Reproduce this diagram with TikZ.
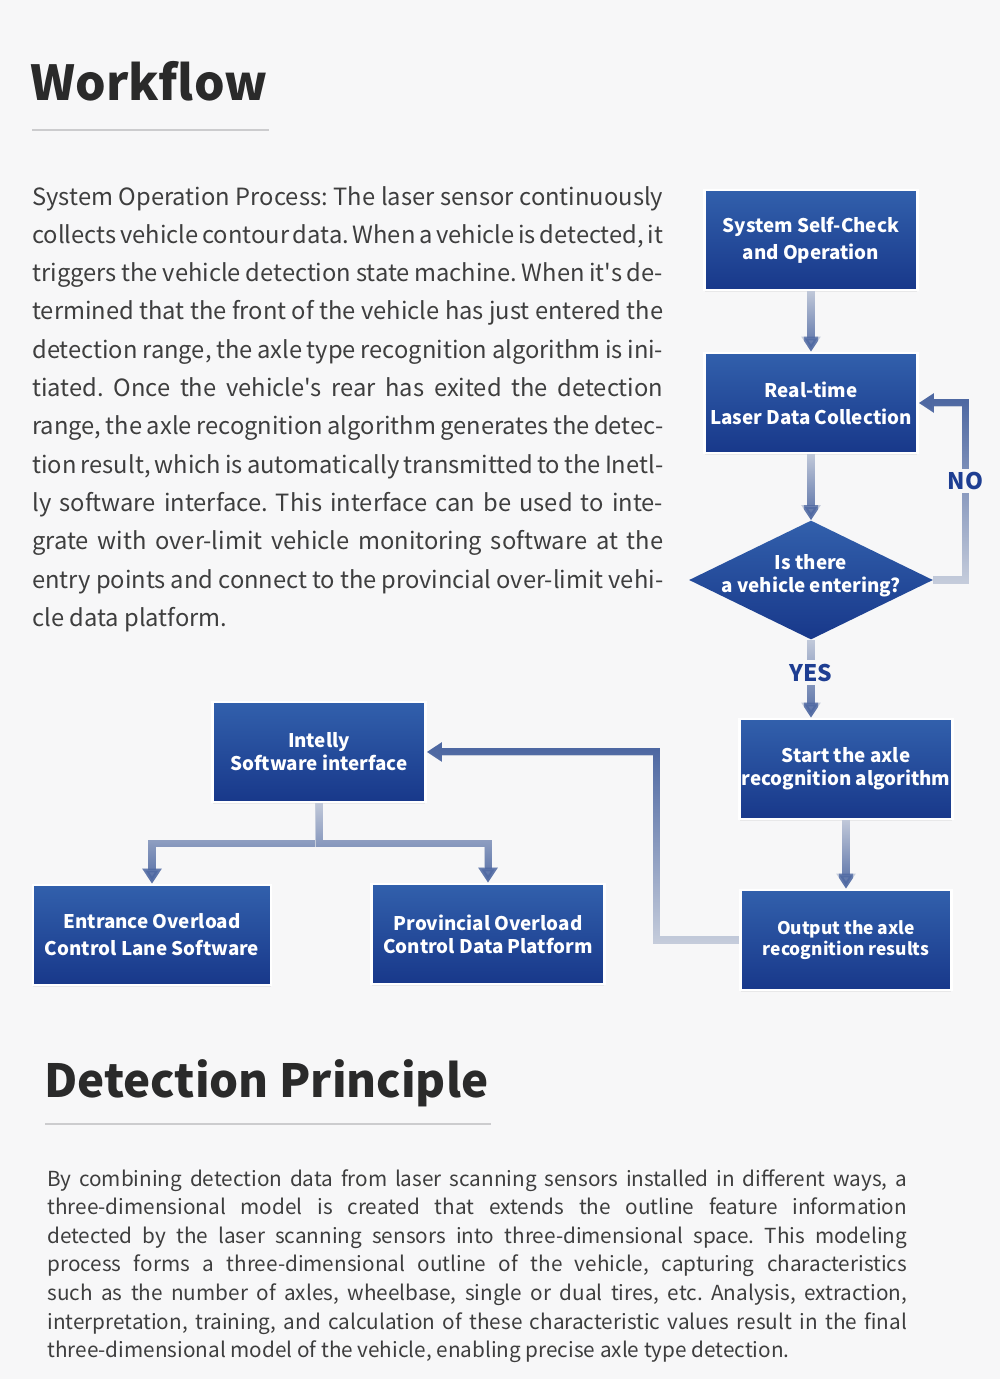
\documentclass[tikz,border=0pt]{standalone}
\usepackage{fontspec}
\setmainfont{Noto Sans CJK SC}[Ligatures=TeXOff]
\usetikzlibrary{arrows.meta,positioning,shapes.geometric,shadows,fadings}
\frenchspacing

\definecolor{pagebg}{RGB}{247,247,248}
\definecolor{boxtop}{RGB}{50,96,172}
\definecolor{boxbot}{RGB}{24,56,138}
\definecolor{linkcol}{RGB}{78,104,162}
\definecolor{linklight}{RGB}{198,205,220}
\definecolor{headcol}{RGB}{42,42,42}
\definecolor{bodycol}{RGB}{62,62,62}
\definecolor{labcol}{RGB}{30,62,146}
\definecolor{rulecol}{RGB}{204,204,206}

\newlength\wflinewd
\newcommand\jline[1]{\makebox[\wflinewd][s]{#1}}

\begin{document}
\begin{tikzpicture}[x=0.02cm, y=-0.02cm,
  box/.style={rectangle, draw=white, line width=1.6pt,
              top color=boxtop, bottom color=boxbot,
              drop shadow={opacity=0.12, shadow xshift=0pt, shadow yshift=-1pt},
              minimum width=4.26cm, minimum height=2cm, inner sep=1pt,
              text=white, align=center,
              font=\bfseries\fontsize{10.7}{15.3}\selectfont},
  tight/.style={font=\bfseries\fontsize{10.7}{13}\selectfont},
  decide/.style={diamond, top color=boxtop, bottom color=boxbot,
              minimum width=4.88cm, minimum height=2.38cm, inner sep=0pt},
  arr/.style={-{Triangle[width=0.37cm, length=0.3cm]}, line width=4pt, draw=linklight,
              postaction={draw=linkcol, path fading=#1}},
  arr/.default=north,
  lab/.style={fill=pagebg, inner sep=2pt, text=labcol,
              font=\bfseries\fontsize{13}{15}\selectfont},
  heading/.style={anchor=base west, inner sep=0pt, text=headcol},
  body/.style={anchor=base west, inner sep=0pt, text=bodycol}
]
% page
\fill[pagebg] (0,0) rectangle (1000,1379);
\useasboundingbox (0,0) rectangle (1000,1379);

% Headings
\node[heading, font=\bfseries\fontsize{27.4}{32}\selectfont] (wfhead) at (30,100) {Workflow};
\draw[rulecol, line width=1pt] (32,130) -- (269,130);
\node[heading, font=\bfseries\fontsize{26}{32}\selectfont] (dphead) at (44,1097) {Detection Principle};
\draw[rulecol, line width=1pt] (45,1124) -- (491,1124);

% Text
\node[body] (wftext) at (32,205) {\fontsize{13.5}{21.8}\selectfont\setlength\wflinewd{12.62cm}%
\vtop{\hsize=\wflinewd \parindent=0pt
\jline{System Operation Process: The laser sensor continuously}\par
\jline{collects vehicle contour data. When a vehicle is detected, it}\par
\jline{triggers the vehicle detection state machine. When it's de-}\par
\jline{termined that the front of the vehicle has just entered the}\par
\jline{detection range, the axle type recognition algorithm is ini-}\par
\jline{tiated. Once the vehicle's rear has exited the detection}\par
\jline{range, the axle recognition algorithm generates the detec-}\par
\jline{tion result, which is automatically transmitted to the Inetl-}\par
\jline{ly software interface. This interface can be used to inte-}\par
\jline{grate with over-limit vehicle monitoring software at the}\par
\jline{entry points and connect to the provincial over-limit vehi-}\par
cle data platform.}};

\node[body] (dptext) at (47,1186) {\fontsize{11.8}{16.3}\selectfont\setlength\wflinewd{17.2cm}%
\vtop{\hsize=\wflinewd \parindent=0pt
\jline{By combining detection data from laser scanning sensors installed in different ways, a}\par
\jline{three-dimensional model is created that extends the outline feature information}\par
\jline{detected by the laser scanning sensors into three-dimensional space. This modeling}\par
\jline{process forms a three-dimensional outline of the vehicle, capturing characteristics}\par
\jline{such as the number of axles, wheelbase, single or dual tires, etc. Analysis, extraction,}\par
\jline{interpretation, training, and calculation of these characteristic values result in the final}\par
three-dimensional model of the vehicle, enabling precise axle type detection.}};

% Flow
\node[box] (chk) at (811,240) {System Self-Check\\and Operation};
\node[box] (coll) at (811,403) {Real-time\\Laser Data Collection};
\node[decide, label={[text=white, align=center, yshift=2.5pt,
      font=\bfseries\fontsize{10.7}{13}\selectfont]center:Is there\\a vehicle entering?}] (veh) at (811,580) {};
\node[box, tight, minimum width=4.24cm] (algo) at (846,769) {Start the axle\\recognition algorithm};
\node[box, minimum width=4.22cm, font=\bfseries\fontsize{9.9}{12}\selectfont] (res) at (846,940) {Output the axle\\recognition results};
\node[box, tight] (intf) at (319,752) {Intelly\\Software interface};
\node[box, minimum width=4.76cm] (lane) at (152,935) {Entrance Overload\\Control Lane Software};
\node[box, tight, minimum width=4.66cm] (plat) at (488,934) {Provincial Overload\\Control Data Platform};

% Arrows
\draw[arr] (chk) -- (coll);
\draw[arr] (coll) -- (veh);
\draw[arr=south] (veh.east) -- ++(32,0) |- node[lab, pos=0.28] {NO} (coll.east);
\draw[arr] (veh.south) -- node[lab, pos=0.42] {YES} (veh.south |- algo.north);
\draw[arr] (algo) -- (res);
\draw[arr=south] (res.west) -- ++(-83,0) |- (intf.east);
\draw[arr] (intf.south) -- ++(0,40) -| (lane.north);
\draw[arr] (intf.south) -- ++(0,40) -| (plat.north);
\end{tikzpicture}
\end{document}
